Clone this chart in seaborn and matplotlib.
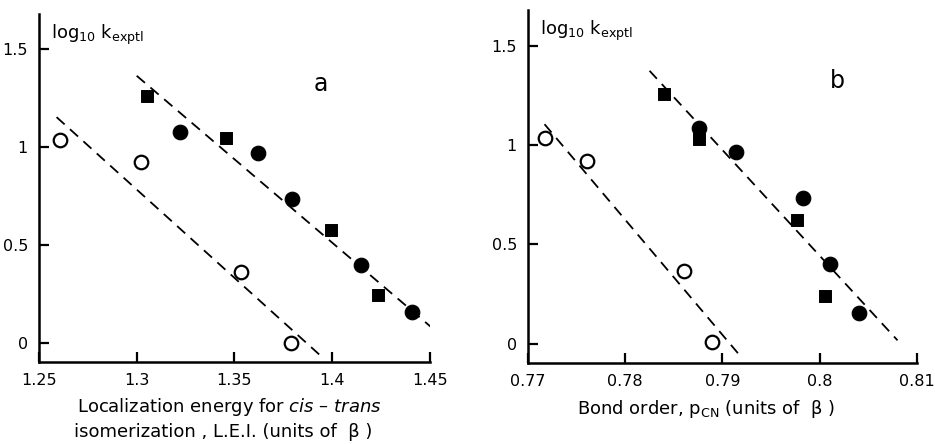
import matplotlib
matplotlib.use('Agg')
import matplotlib.pyplot as plt
import seaborn as sns

# panel a: localization energy L.E.I.
a_open_x = [1.261, 1.302, 1.3536, 1.379]
a_open_y = [1.037, 0.923, 0.362, 0.0]
a_sq_x = [1.3052, 1.3456, 1.3993, 1.4235]
a_sq_y = [1.259, 1.046, 0.575, 0.245]
a_dot_x = [1.3221, 1.3622, 1.3797, 1.415, 1.441]
a_dot_y = [1.077, 0.969, 0.735, 0.396, 0.158]
a_fit_upper_x = [1.300, 1.4508]
a_fit_upper_y = [1.364, 0.080]
a_fit_lower_x = [1.259, 1.395]
a_fit_lower_y = [1.153, -0.073]

# panel b: bond order p_CN
b_open_x = [0.7718, 0.7761, 0.7860, 0.7889]
b_open_y = [1.037, 0.918, 0.366, 0.009]
b_sq_x = [0.7840, 0.7876, 0.7977, 0.8005]
b_sq_y = [1.255, 1.032, 0.621, 0.238]
b_dot_x = [0.7876, 0.7914, 0.7983, 0.8011, 0.8040]
b_dot_y = [1.088, 0.966, 0.731, 0.400, 0.153]
b_fit_upper_x = [0.7825, 0.8080]
b_fit_upper_y = [1.374, 0.017]
b_fit_lower_x = [0.7717, 0.7918]
b_fit_lower_y = [1.105, -0.060]

a_ticks = [1.25, 1.3, 1.35, 1.4, 1.45]
a_ticklabels = ['1.25', '1.3', '1.35', '1.4', '1.45']
b_ticks = [0.77, 0.78, 0.79, 0.80, 0.81]
b_ticklabels = ['0.77', '0.78', '0.79', '0.8', '0.81']
y_ticks = [0, 0.5, 1, 1.5]
y_ticklabels = ['0', '0.5', '1', '1.5']

sns.set_style('ticks')
plt.rcParams['font.family'] = ['DejaVu Sans']
plt.rcParams['text.color'] = 'black'

fig = plt.figure(figsize=(9.35, 4.44), dpi=100)
ax_a = fig.add_axes([0.0417, 0.1847, 0.418, 0.784])
ax_b = fig.add_axes([0.5647, 0.1825, 0.416, 0.795])


def draw_panel(ax, ox, oy, sx, sy, dx, dy, ux, uy, lx, ly, xlim, ticks, ticklabels,
               letter, letter_x):
    for fx, fy in [(ux, uy), (lx, ly)]:
        sns.lineplot(x=fx, y=fy, ax=ax, color='black', lw=1.3, dashes=(6, 4), sort=False)
    sns.scatterplot(x=ox, y=oy, ax=ax, marker='o', s=95, facecolor='white',
                    edgecolor='black', linewidth=1.6, zorder=3)
    sns.scatterplot(x=sx, y=sy, ax=ax, marker='s', s=75, color='black',
                    edgecolor='black', zorder=3)
    sns.scatterplot(x=dx, y=dy, ax=ax, marker='o', s=110, color='black',
                    edgecolor='black', zorder=3)
    ax.set_xlim(xlim)
    ax.set_ylim(-0.097, 1.68)
    ax.set_xticks(ticks)
    ax.set_xticklabels(ticklabels)
    ax.set_yticks(y_ticks)
    ax.set_yticklabels(y_ticklabels)
    ax.tick_params(direction='in', length=7, width=1.6, labelsize=11.5, pad=8,
                   colors='black')
    for s in ['top', 'right']:
        ax.spines[s].set_visible(False)
    for s in ['left', 'bottom']:
        ax.spines[s].set_linewidth(1.8)
        ax.spines[s].set_color('black')
    ax.set_xlabel('')
    ax.set_ylabel('')
    ax.text(0.03, 0.975, r'$\mathregular{log_{10}\ k_{exptl}}$', transform=ax.transAxes,
            fontsize=13, va='top', ha='left')
    ax.text(letter_x, 0.80, letter, transform=ax.transAxes, fontsize=17,
            ha='center', va='center')


draw_panel(ax_a, a_open_x, a_open_y, a_sq_x, a_sq_y, a_dot_x, a_dot_y,
           a_fit_upper_x, a_fit_upper_y, a_fit_lower_x, a_fit_lower_y,
           (1.25, 1.45), a_ticks, a_ticklabels, 'a', 0.72)
draw_panel(ax_b, b_open_x, b_open_y, b_sq_x, b_sq_y, b_dot_x, b_dot_y,
           b_fit_upper_x, b_fit_upper_y, b_fit_lower_x, b_fit_lower_y,
           (0.77, 0.81), b_ticks, b_ticklabels, 'b', 0.795)

fig.text(0.245, 0.083, r'Localization energy for $\it{cis}$ – $\it{trans}$', fontsize=13,
         ha='center', va='center')
fig.text(0.239, 0.026, 'isomerization , L.E.I. (units of  β )', fontsize=13,
         ha='center', va='center')
fig.text(0.755, 0.078, r'Bond order, $\mathregular{p_{CN}}$ (units of  β )', fontsize=13,
         ha='center', va='center')

fig.savefig('out.png', dpi=100)
